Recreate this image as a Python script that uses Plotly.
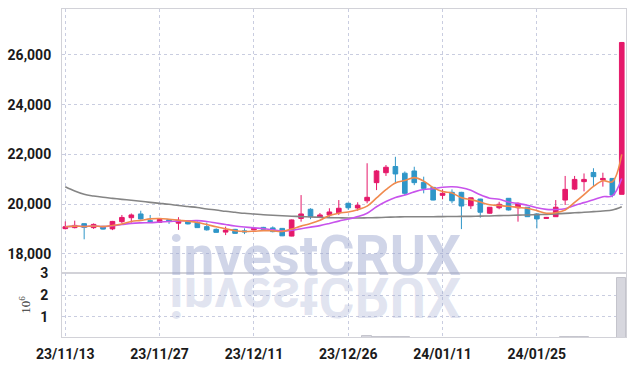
import base64
import plotly.graph_objects as go
import pandas as pd

dates = [
    "2023-11-13", "2023-11-14", "2023-11-15", "2023-11-16", "2023-11-17",
    "2023-11-20", "2023-11-21", "2023-11-22", "2023-11-23", "2023-11-24",
    "2023-11-27", "2023-11-28", "2023-11-29", "2023-11-30", "2023-12-01",
    "2023-12-04", "2023-12-05", "2023-12-06", "2023-12-07", "2023-12-08",
    "2023-12-11", "2023-12-12", "2023-12-13", "2023-12-14", "2023-12-15",
    "2023-12-18", "2023-12-19", "2023-12-20", "2023-12-21", "2023-12-22",
    "2023-12-26", "2023-12-27", "2023-12-28", "2024-01-02", "2024-01-03",
    "2024-01-04", "2024-01-05", "2024-01-08", "2024-01-09", "2024-01-10",
    "2024-01-11", "2024-01-12", "2024-01-15", "2024-01-16", "2024-01-17",
    "2024-01-18", "2024-01-19", "2024-01-22", "2024-01-23", "2024-01-24",
    "2024-01-25", "2024-01-26", "2024-01-29", "2024-01-30", "2024-01-31",
    "2024-02-01", "2024-02-02", "2024-02-05", "2024-02-06", "2024-02-07",
]

open_ = [19010, 19050, 19210, 19050, 19100, 19000, 19290, 19450, 19600, 19330,
         19260, 19370, 19230, 19290, 19260, 19090, 18980, 18870, 18980, 18920,
         18960, 19060, 19040, 19020, 18710, 19420, 19790, 19470, 19560, 19650,
         20030, 19840, 20130, 20860, 21260, 21510, 21240, 21330, 20870, 20670,
         20350, 20470, 20470, 19930, 20200, 19630, 19850, 20230, 19850, 19870,
         19600, 19420, 19490, 20160, 20600, 20900, 21270, 20970, 21030, 20390]
high = [19300, 19330, 19220, 19220, 19120, 19320, 19560, 19620, 19730, 19560,
        19420, 19390, 19470, 19300, 19300, 19250, 19020, 19090, 19000, 19020,
        19060, 19080, 19100, 19030, 19380, 20360, 19830, 19640, 19830, 20160,
        20050, 20070, 21640, 21370, 21570, 21900, 21310, 21500, 21100, 20680,
        20590, 20590, 20490, 20260, 20210, 19880, 20090, 20240, 20060, 19880,
        19620, 19480, 20160, 21130, 21130, 21230, 21440, 21260, 21040, 26520]
low = [18980, 19020, 18580, 19000, 18970, 18950, 19230, 19250, 19380, 19290,
       19250, 19200, 18960, 19180, 19040, 18930, 18850, 18750, 18800, 18790,
       18940, 18970, 18860, 18710, 18700, 19290, 19390, 19430, 19490, 19560,
       19770, 19730, 20030, 20560, 21130, 20830, 20350, 20760, 20430, 20150,
       20190, 20030, 18990, 19800, 19450, 19610, 19790, 19740, 19290, 19480,
       19020, 19410, 19480, 19960, 20560, 20510, 20700, 20700, 20270, 20390]
close = [19085, 19140, 19060, 19180, 18990, 19300, 19460, 19560, 19400, 19300,
         19380, 19310, 19350, 19200, 19050, 18960, 18860, 18950, 18820, 18880,
         19020, 18980, 18890, 18720, 19360, 19600, 19490, 19560, 19680, 19830,
         19850, 19950, 20270, 21330, 21480, 21210, 20430, 20860, 20630, 20160,
         20430, 20130, 19920, 20250, 19670, 19870, 19990, 19760, 20030, 19490,
         19400, 19460, 19870, 20590, 20990, 20990, 21100, 21030, 20360, 26500]
ma_long = [20696, 20523, 20390, 20322, 20270, 20229, 20189, 20149, 20109, 20068,
           20028, 19988, 19940, 19899, 19859, 19799, 19759, 19706, 19666, 19626,
           19598, 19570, 19549, 19529, 19509, 19493, 19477, 19465, 19453, 19445,
           19437, 19437, 19445, 19453, 19465, 19477, 19485, 19489, 19489, 19489,
           19493, 19497, 19501, 19505, 19513, 19521, 19533, 19541, 19553, 19561,
           19573, 19585, 19602, 19622, 19646, 19666, 19694, 19722, 19759, 19891]
volume = [15000, 15000, 40000, 15000, 15000, 15000, 15000, 15000, 15000, 15000,
          15000, 15000, 15000, 15000, 15000, 15000, 15000, 15000, 15000, 15000,
          15000, 15000, 15000, 15000, 45000, 50000, 15000, 15000, 40000, 15000,
          15000, 15000, 130000, 90000, 70000, 70000, 60000, 50000, 15000, 15000,
          15000, 15000, 15000, 15000, 40000, 15000, 15000, 40000, 35000, 15000,
          15000, 15000, 15000, 90000, 60000, 60000, 55000, 50000, 40000, 2780000]

price_ticks = [18000, 20000, 22000, 24000, 26000]
vol_ticks = [1, 2, 3]
watermark = "investCRUX"

UP = "#E5196A"
DOWN = "#2F96C8"
GRID = "#c9cde0"
AXLINE = "#d2d2d8"
TICKFONT = dict(family="Roboto, sans-serif", size=14, color="#1a1a1a", weight="bold")

idx = list(range(len(dates)))
s = pd.Series(close, dtype=float)
ma5 = s.rolling(5, min_periods=1).mean().tolist()
ma10 = s.rolling(10, min_periods=1).mean().tolist()

date_ticks = idx[::10]
date_text = [pd.Timestamp(dates[i]).strftime("%y/%m/%d") for i in date_ticks]

fig = go.Figure()
fig.add_trace(go.Bar(x=idx, y=[v / 1e6 for v in volume], xaxis="x2", yaxis="y2",
                     marker=dict(color="#d7d7de", line=dict(color="#c4c4cc", width=1)),
                     showlegend=False, hoverinfo="skip"))
fig.add_trace(go.Scatter(x=idx, y=ma_long, mode="lines", line=dict(color="#858585", width=1.6, shape="spline"),
                         showlegend=False, hoverinfo="skip"))
fig.add_trace(go.Scatter(x=idx, y=ma10, mode="lines", line=dict(color="#C853EC", width=1.6, shape="spline"),
                         showlegend=False, hoverinfo="skip"))
fig.add_trace(go.Scatter(x=idx, y=ma5, mode="lines", line=dict(color="#F08A4E", width=1.6, shape="spline"),
                         showlegend=False, hoverinfo="skip"))
fig.add_trace(go.Candlestick(x=idx, open=open_, high=high, low=low, close=close,
                             increasing=dict(line=dict(color=UP, width=1), fillcolor=UP),
                             decreasing=dict(line=dict(color=DOWN, width=1), fillcolor=DOWN),
                             showlegend=False))

# mirrored reflection of the watermark (decorative)
W, H = 300, 60
svg = (f'<svg xmlns="http://www.w3.org/2000/svg" width="{W}" height="{H}" viewBox="0 0 {W} {H}">'
       f'<g transform="scale(1,-1)"><text x="{W/2}" y="0" text-anchor="middle" '
       f'font-family="Roboto, sans-serif" font-weight="bold" font-size="55" '
       f'fill="rgb(150,162,205)" fill-opacity="0.28">{watermark}</text></g></svg>')
svg_uri = "data:image/svg+xml;base64," + base64.b64encode(svg.encode()).decode()

L, T, PW, PH = 62, 9, 564, 328
xr = [-0.35, 59.45]
common = dict(showgrid=True, gridcolor=GRID, griddash="dot", gridwidth=1,
              showline=True, linecolor=AXLINE, mirror=True, zeroline=False, automargin=False)
fig.update_layout(
    width=634, height=366,
    margin=dict(l=62, r=8, t=9, b=29),
    paper_bgcolor="white", plot_bgcolor="white",
    bargap=0.0,
    xaxis=dict(domain=[0, 1], range=xr, anchor="y", tickvals=date_ticks, showticklabels=False,
               rangeslider=dict(visible=False), **common),
    yaxis=dict(domain=[0.195, 1], range=[17223, 27847], tickvals=price_ticks, tickformat=",d",
               tickfont=TICKFONT, ticklabelstandoff=7, **common),
    xaxis2=dict(domain=[0, 1], range=xr, anchor="y2", tickvals=date_ticks, ticktext=date_text,
                tickfont=TICKFONT, ticklabelstandoff=4, **common),
    yaxis2=dict(domain=[0, 0.195], range=[0.08, 3.02], tickvals=vol_ticks,
                tickfont=TICKFONT, ticklabelstandoff=10,
                title=dict(text="10<sup>6</sup>", font=dict(family="Liberation Serif, serif", size=13, color="#333"),
                           standoff=6), **common),
    annotations=[dict(text=watermark, xref="paper", yref="paper", x=0.4486, y=0.247,
                      xanchor="center", yanchor="middle", showarrow=False,
                      font=dict(family="Roboto, sans-serif", size=55, weight="bold",
                                color="rgba(150,162,205,0.45)"))],
    images=[dict(source=svg_uri, xref="paper", yref="paper",
                 x=(315 - W / 2 - L) / PW, y=(T + PH - 278) / PH,
                 sizex=W / PW, sizey=H / PH, xanchor="left", yanchor="top",
                 sizing="stretch", layer="above")],
)

fig.write_html("out.html")
